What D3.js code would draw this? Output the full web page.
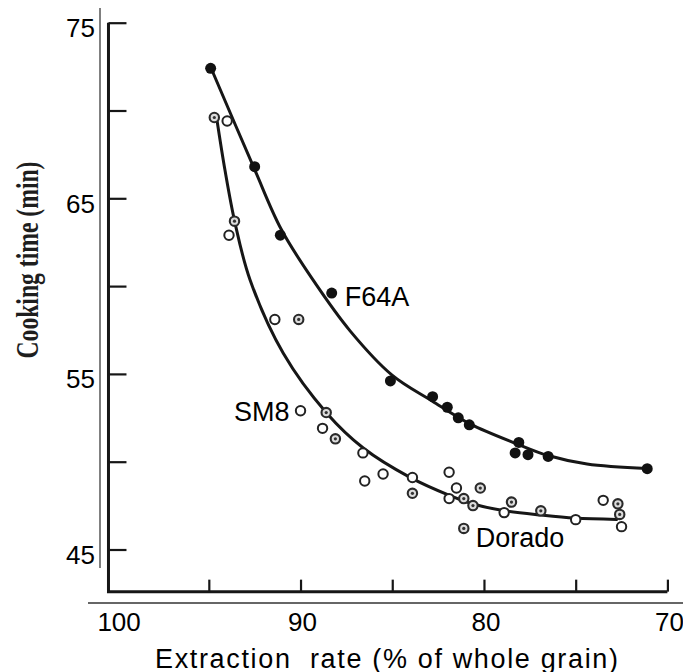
<!DOCTYPE html>
<html>
<head>
<meta charset="utf-8">
<script src="https://cdn.jsdelivr.net/npm/d3@7/dist/d3.min.js"></script>
<style>
  html, body { margin: 0; padding: 0; background: #fff; }
  svg { display: block; }
  text { white-space: pre; }
</style>
</head>
<body>
<svg id="chart" width="683" height="672"></svg>
<script>
// ---- data (extraction rate %, cooking time min) ----
const xTickLabels = [100, 90, 80, 70];
const yTickLabels = [75, 65, 55, 45];
const xMinorTicks = [95, 90, 85, 80, 75, 70];
const yMinorTicks = [75, 70, 65, 60, 55, 50, 45];

const f64a = [[94.9,72.4],[92.5,66.8],[91.1,62.9],[88.3,59.6],[85.1,54.6],[82.8,53.7],
  [82.0,53.1],[81.4,52.5],[80.8,52.1],[78.1,51.1],[78.3,50.5],[77.6,50.4],[76.5,50.3],[71.1,49.6]];

const sm8 = [[94.0,69.4],[93.9,62.9],[91.4,58.1],[90.0,52.9],[88.8,51.9],[86.6,50.5],
  [86.5,48.9],[85.5,49.3],[83.9,49.1],[81.9,49.4],[81.5,48.5],[81.9,47.9],[78.9,47.1],
  [75.0,46.7],[73.5,47.8],[72.5,46.3]];

const dorado = [[94.7,69.6],[93.6,63.7],[90.1,58.1],[88.6,52.8],[88.1,51.3],[83.9,48.2],
  [80.2,48.5],[81.1,47.9],[80.6,47.5],[78.5,47.7],[76.9,47.2],[72.7,47.6],[72.6,47.0],[81.1,46.2]];

const f64aCurve = [[94.88,72.42],[92.54,66.73],[91.06,63.25],[89.32,60.35],[87.30,57.45],
  [85.01,54.93],[82.83,53.46],[80.76,52.15],[78.20,51.01],[76.51,50.35],[74.38,49.87],[71.11,49.61]];

const lowerCurve = [[94.57,69.56],[94.12,66.61],[93.57,63.59],[92.75,60.35],[90.94,56.17],
  [88.57,52.76],[86.58,50.78],[84.03,49.11],[81.85,48.07],[80.58,47.59],[78.95,47.22],
  [76.85,46.96],[75.04,46.79],[72.76,46.71]];

const seriesLabels = ["F64A", "SM8", "Dorado"];

// ---- scales ----
const svg = d3.select("#chart");
const x = d3.scaleLinear().domain([100, 70]).range([117.1, 667.4]);
const y = d3.scaleLinear().domain([45, 75]).range([549.5, 22.7]);

const ink = "#161616";
const frameLeft = x(100.47);
const frameBottom = y(42.6);

// ---- outer (overlay) axis lines ----
svg.append("line").attr("x1", 100).attr("x2", 100).attr("y1", 8).attr("y2", 568)
  .attr("stroke", "#000").attr("stroke-width", 1);
svg.append("line").attr("x1", 88).attr("x2", 683).attr("y1", 603).attr("y2", 603)
  .attr("stroke", "#333").attr("stroke-width", 1.6);

// ---- inner (scanned) frame ----
svg.append("path")
  .attr("d", d3.line()([[frameLeft, y(75)], [frameLeft, frameBottom], [x(70), frameBottom]]))
  .attr("fill", "none").attr("stroke", ink).attr("stroke-width", 3);

const yInner = d3.axisRight(y).tickValues(yMinorTicks).tickSize(18).tickSizeOuter(0).tickFormat("");
const gyi = svg.append("g").attr("transform", `translate(${frameLeft},0)`).call(yInner);
gyi.select(".domain").remove();
gyi.selectAll(".tick line").attr("stroke", ink).attr("stroke-width", 2.2);

const xInner = d3.axisTop(x).tickValues(xMinorTicks).tickSize(12).tickSizeOuter(0).tickFormat("");
const gxi = svg.append("g").attr("transform", `translate(0,${frameBottom})`).call(xInner);
gxi.select(".domain").remove();
gxi.selectAll(".tick line").attr("stroke", ink).attr("stroke-width", 2.2);

// ---- overlay tick labels ----
const xLab = d3.axisBottom(x).tickValues(xTickLabels).tickSize(0).tickPadding(0).tickFormat(d3.format("d"));
const gxl = svg.append("g").attr("transform", `translate(1.5,603)`).call(xLab);
gxl.select(".domain").remove();
gxl.selectAll("text").attr("dy", null).attr("y", 28)
  .attr("font-family", "'Liberation Sans', Arial, sans-serif").attr("font-size", 26).attr("fill", "#000");

const yLab = d3.axisLeft(y).tickValues(yTickLabels).tickSize(0).tickPadding(0).tickFormat(d3.format("d"));
const gyl = svg.append("g").attr("transform", `translate(95,0)`).call(yLab);
gyl.select(".domain").remove();
gyl.selectAll("text").attr("dy", null).attr("y", 14).attr("x", 0)
  .attr("font-family", "'Liberation Sans', Arial, sans-serif").attr("font-size", 26).attr("fill", "#000");

// ---- axis titles ----
svg.append("text")
  .attr("transform", "translate(37.5,260) rotate(-90) scale(1,1.28)")
  .attr("text-anchor", "middle")
  .attr("font-family", "'Liberation Serif', 'Times New Roman', serif")
  .attr("font-weight", "bold").attr("font-size", 24).attr("fill", "#1e1e1e")
  .attr("textLength", 197).attr("lengthAdjust", "spacingAndGlyphs")
  .text("Cooking time (min)");

svg.append("text")
  .attr("x", 155).attr("y", 667.5)
  .attr("textLength", 463).attr("lengthAdjust", "spacing")
  .attr("font-family", "'Liberation Sans', Arial, sans-serif")
  .attr("font-size", 27).attr("fill", "#000")
  .text("Extraction  rate (% of whole grain)");

// ---- fitted curves ----
const line = d3.line().x(d => x(d[0])).y(d => y(d[1])).curve(d3.curveCatmullRom.alpha(0.5));
[f64aCurve, lowerCurve].forEach(c => {
  svg.append("path").attr("d", line(c)).attr("fill", "none")
    .attr("stroke", ink).attr("stroke-width", 3).attr("stroke-linecap", "round");
});

// ---- points ----
svg.append("g").selectAll("circle").data(f64a).join("circle")
  .attr("cx", d => x(d[0])).attr("cy", d => y(d[1])).attr("r", 5.5).attr("fill", "#111");

svg.append("g").selectAll("circle").data(sm8).join("circle")
  .attr("cx", d => x(d[0])).attr("cy", d => y(d[1])).attr("r", 4.7)
  .attr("fill", "#fff").attr("stroke", "#222").attr("stroke-width", 2);

const gd = svg.append("g");
gd.selectAll("circle.o").data(dorado).join("circle").attr("class", "o")
  .attr("cx", d => x(d[0])).attr("cy", d => y(d[1])).attr("r", 4.7)
  .attr("fill", "#dcdcdc").attr("stroke", "#2a2a2a").attr("stroke-width", 2.1);
gd.selectAll("circle.c").data(dorado).join("circle").attr("class", "c")
  .attr("cx", d => x(d[0])).attr("cy", d => y(d[1])).attr("r", 1.6).attr("fill", "#333");

// ---- series labels (anchored to a point of each series) ----
const labFont = "'Liberation Sans', Arial, sans-serif";
svg.append("text").attr("x", x(f64a[3][0]) + 13).attr("y", y(f64a[3][1]) + 13)
  .attr("font-family", labFont).attr("font-size", 27).attr("fill", "#000").text(seriesLabels[0]);
svg.append("text").attr("x", x(sm8[3][0]) - 11).attr("y", y(sm8[3][1]) + 10)
  .attr("text-anchor", "end")
  .attr("font-family", labFont).attr("font-size", 27).attr("fill", "#000").text(seriesLabels[1]);
svg.append("text").attr("x", x(dorado[13][0]) + 12).attr("y", y(dorado[13][1]) + 19)
  .attr("font-family", labFont).attr("font-size", 27).attr("fill", "#000").text(seriesLabels[2]);
</script>
</body>
</html>
